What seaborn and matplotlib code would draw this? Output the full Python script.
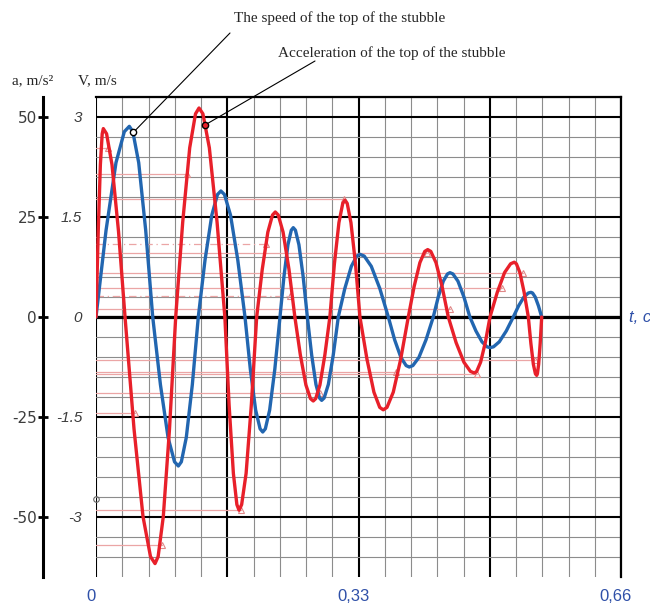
import matplotlib
matplotlib.use('Agg')
import matplotlib.pyplot as plt
from matplotlib.ticker import MultipleLocator
from matplotlib.transforms import ScaledTranslation
import seaborn as sns

sns.set_style('white')
plt.rcParams['axes.unicode_minus'] = False

#%% data
# speed of the top of the stubble, V (m/s) over t (s)
t_speed = [0, 0.0126, 0.0251, 0.0356, 0.0419, 0.0463, 0.0537, 0.0625, 0.0713,
           0.0810, 0.0906, 0.0987, 0.1035, 0.1073, 0.1135, 0.1211, 0.1286,
           0.1371, 0.1456, 0.1527, 0.1570, 0.1615, 0.1691, 0.1782, 0.1873,
           0.1940, 0.2007, 0.2063, 0.2096, 0.2129, 0.2183, 0.2248, 0.2313,
           0.2363, 0.2413, 0.2455, 0.2480, 0.2507, 0.2551, 0.2604, 0.2657,
           0.2711, 0.2765, 0.2810, 0.2837, 0.2868, 0.2921, 0.2983, 0.3046,
           0.3128, 0.3210, 0.3278, 0.3319, 0.3372, 0.3461, 0.3568, 0.3675,
           0.3754, 0.3833, 0.3899, 0.3938, 0.3983, 0.4059, 0.4149, 0.4240,
           0.4303, 0.4366, 0.4419, 0.4450, 0.4487, 0.4550, 0.4625, 0.4700,
           0.4776, 0.4852, 0.4915, 0.4953, 0.4997, 0.5070, 0.5158, 0.5246,
           0.5313, 0.5379, 0.5435, 0.5468, 0.5488, 0.5522, 0.5562, 0.5603]
v_speed = [0, 1.298, 2.314, 2.780, 2.86, 2.780, 2.314, 1.298, 0,
           -1.015, -1.808, -2.172, -2.235, -2.172, -1.808, -1.015, 0,
           0.858, 1.529, 1.837, 1.89, 1.837, 1.529, 0.858, 0,
           -0.783, -1.396, -1.677, -1.725, -1.677, -1.396, -0.783, 0,
           0.608, 1.084, 1.302, 1.34, 1.302, 1.084, 0.608, 0,
           -0.568, -1.011, -1.215, -1.25, -1.215, -1.011, -0.568, 0,
           0.427, 0.760, 0.914, 0.94, 0.914, 0.760, 0.427, 0,
           -0.341, -0.607, -0.729, -0.75, -0.729, -0.607, -0.341, 0,
           0.302, 0.538, 0.646, 0.665, 0.646, 0.538, 0.302, 0,
           -0.209, -0.372, -0.447, -0.46, -0.447, -0.372, -0.209, 0,
           0.168, 0.299, 0.360, 0.37, 0.360, 0.299, 0.168, 0]

# acceleration of the top of the stubble, a (m/s^2) over t (s)
t_acc = [0, 0.0028, 0.0055, 0.0078, 0.0092, 0.0133, 0.0201, 0.0283, 0.0365,
         0.0478, 0.0591, 0.0685, 0.0742, 0.0781, 0.0846, 0.0924, 0.1002,
         0.1090, 0.1178, 0.1251, 0.1295, 0.1344, 0.1425, 0.1522, 0.1620,
         0.1673, 0.1727, 0.1771, 0.1798, 0.1831, 0.1887, 0.1953, 0.2020,
         0.2090, 0.2160, 0.2219, 0.2254, 0.2291, 0.2352, 0.2426, 0.2500,
         0.2569, 0.2639, 0.2696, 0.2731, 0.2762, 0.2815, 0.2877, 0.2940,
         0.2997, 0.3054, 0.3102, 0.3130, 0.3158, 0.3205, 0.3262, 0.3318,
         0.3406, 0.3494, 0.3567, 0.3611, 0.3658, 0.3737, 0.3831, 0.3926,
         0.3999, 0.4072, 0.4133, 0.4170, 0.4209, 0.4274, 0.4351, 0.4429,
         0.4527, 0.4625, 0.4707, 0.4756, 0.4786, 0.4835, 0.4894, 0.4953,
         0.5045, 0.5136, 0.5212, 0.5258, 0.5285, 0.5329, 0.5382, 0.5435,
         0.5467, 0.5498, 0.5524, 0.5540, 0.5549, 0.5565, 0.5584, 0.5603]
a_acc = [0, 21.4, 38.1, 45.8, 47.1, 45.8, 38.1, 21.4, 0,
         -28.0, -49.9, -59.9, -61.65, -59.9, -49.9, -28.0, 0,
         23.7, 42.3, 50.8, 52.25, 50.8, 42.3, 23.7, 0,
         -21.9, -39.1, -46.9, -48.3, -46.9, -39.1, -21.9, 0,
         11.9, 21.2, 25.5, 26.25, 25.5, 21.2, 11.9, 0,
         -9.5, -17.0, -20.4, -21.0, -20.4, -17.0, -9.5, 0,
         13.3, 23.6, 28.4, 29.2, 28.4, 23.6, 13.3, 0,
         -10.5, -18.8, -22.6, -23.2, -22.6, -18.8, -10.5, 0,
         7.6, 13.6, 16.4, 16.85, 16.4, 13.6, 7.6, 0,
         -6.4, -11.3, -13.6, -14.0, -13.6, -11.3, -6.4, 0,
         6.2, 11.1, 13.3, 13.7, 13.3, 11.1, 6.2, 0,
         -6.6, -11.8, -14.2, -14.6, -14.2, -11.8, -6.6, 0]

# thin construction lines of the drawing: level (m/s^2) and right end (s)
ref_level = [42.2, 35.85, 29.4, 18.35, 16.0, 10.9, 7.2, 5.25, 1.9,
             -10.8, -13.8, -14.15, -19.0, -23.9, -48.3, -57.1]
ref_end = [0.015, 0.1144, 0.3118, 0.2132, 0.416, 0.537, 0.510, 0.2445, 0.445,
           0.552, 0.377, 0.479, 0.281, 0.049, 0.182, 0.083]
ref_style = ['-', '-', '-', (0, (6, 3, 1, 3)), '-', '-', '-', (0, (6, 3, 1, 3)), '-',
             '-', '-', '-', '-', '-', '-', '-']

# callout points (t, value) on the two curves
speed_note = (0.047, 2.77)
acc_note = (0.137, 48.0)
stray_point = (0.0, -45.5)

a_ticks = [50, 25, 0, -25, -50]
a_ticklabels = ['50', '25', '0', '-25', '-50']
v_ticks = [3, 1.5, 0, -1.5, -3]
v_ticklabels = ['3', '1.5', '0', '-1.5', '-3']
t_ticks = [0, 0.165, 0.33, 0.495, 0.66]
t_ticklabels = ['0', '', '0,33', '', '0,66']

#%% figure
W, H = 650, 609
RED = '#e8202a'
BLUE = '#2266b0'
TBLUE = '#2f50a8'
PINK = '#eba5a5'
serif = ['Liberation Serif', 'DejaVu Serif']
sans = ['Liberation Sans', 'DejaVu Sans']

fig = plt.figure(figsize=(W / 100, H / 100), dpi=100)
ax = fig.add_axes([96 / W, (H - 576.6) / H, 525 / W, 479.6 / H])
ax.set_xlim(0, 0.66)
ax.set_ylim(-64.9, 55)
ax.set_axisbelow(True)

ax.set_xticks(t_ticks, t_ticklabels, family=sans)
ax.xaxis.set_minor_locator(MultipleLocator(0.033))
ax.set_yticks(a_ticks, a_ticklabels, family=sans, fontstyle='italic')
ax.yaxis.set_minor_locator(MultipleLocator(5))
ax.grid(which='major', color='black', lw=1.5)
ax.grid(which='minor', color='#8c8c8c', lw=0.8)
ax.axhline(0, color='black', lw=2.3, zorder=1)

ax.tick_params(axis='x', which='both', length=0, pad=9, labelsize=12, labelcolor=TBLUE)
ax.tick_params(axis='y', which='major', direction='inout', length=7.5, width=2,
               pad=1, labelsize=11, labelcolor='#3c3c3c', color='black')
ax.tick_params(axis='y', which='minor', length=0)
shift = ScaledTranslation(-5 / 100, 0, fig.dpi_scale_trans)
for lbl in ax.get_xticklabels():
    lbl.set_transform(lbl.get_transform() + shift)

for s in ['top', 'right']:
    ax.spines[s].set_color('black')
    ax.spines[s].set_linewidth(1.6)
ax.spines['bottom'].set_visible(False)
ax.spines['left'].set_position(('outward', 38))
ax.spines['left'].set_color('black')
ax.spines['left'].set_linewidth(2.2)

# construction lines with their little triangles
for lev, end, ls in zip(ref_level, ref_end, ref_style):
    ax.plot([0, end], [lev, lev], color=PINK, lw=0.9, ls=ls, zorder=1.5)
ax.plot(ref_end, ref_level, ls='none', marker='^', mfc='none', mec='#e08888',
        ms=4, mew=0.8, zorder=1.6)
ax.plot([stray_point[0]], [stray_point[1]], ls='none', marker='o', mfc='none',
        mec='#666666', ms=4, mew=0.8, clip_on=False)

# speed axis (V, m/s)
axv = ax.twinx()
sns.lineplot(x=t_speed, y=v_speed, ax=axv, color=BLUE, lw=2.4,
             solid_joinstyle='round', solid_capstyle='round')
axv.set_ylim(-3.894, 3.3)
axv.set_yticks(v_ticks, v_ticklabels, family=sans, fontstyle='italic')
axv.yaxis.tick_left()
axv.tick_params(axis='y', length=0, pad=10, labelsize=11, labelcolor='#3c3c3c')
for s in axv.spines.values():
    s.set_visible(False)
axv.set_ylabel('')

# acceleration curve on top
axa = ax.twinx()
sns.lineplot(x=t_acc, y=a_acc, ax=axa, color=RED, lw=2.4,
             solid_joinstyle='round', solid_capstyle='round')
axa.set_ylim(-64.9, 55)
axa.set_yticks([])
for s in axa.spines.values():
    s.set_visible(False)
axa.set_ylabel('')
axa.set_xlim(0, 0.66)
axv.set_xlim(0, 0.66)

# callouts
axv.annotate('', xy=speed_note, xytext=(230, H - 33), textcoords='figure pixels',
             arrowprops=dict(arrowstyle='-', color='black', lw=0.8,
                             shrinkA=0, shrinkB=0))
axv.plot([speed_note[0]], [speed_note[1]], ls='none', marker='o', ms=4.5,
         mfc='white', mec='black', mew=1, zorder=5)
axa.annotate('', xy=acc_note, xytext=(315, H - 61), textcoords='figure pixels',
             arrowprops=dict(arrowstyle='-', color='black', lw=0.8,
                             shrinkA=0, shrinkB=0))
axa.plot([acc_note[0]], [acc_note[1]], ls='none', marker='o', ms=4.5,
         mfc=RED, mec='black', mew=1, zorder=5)

fig.text(340 / W, 1 - 18 / H, 'The speed of the top of the stubble',
         ha='center', va='center', family=serif, size=11)
fig.text(392 / W, 1 - 53 / H, 'Acceleration of the top of the stubble',
         ha='center', va='center', family=serif, size=11)
fig.text(12 / W, 1 - 81 / H, 'a, m/s²', ha='left', va='center', family=serif, size=11)
fig.text(78 / W, 1 - 81 / H, 'V, m/s', ha='left', va='center', family=serif, size=11)
ax.text((629 - 96) / 525, 0, 't, c', transform=ax.get_yaxis_transform(),
        ha='left', va='center', color=TBLUE, size=12, style='italic', family=sans)

fig.savefig('out.png', dpi=100)
